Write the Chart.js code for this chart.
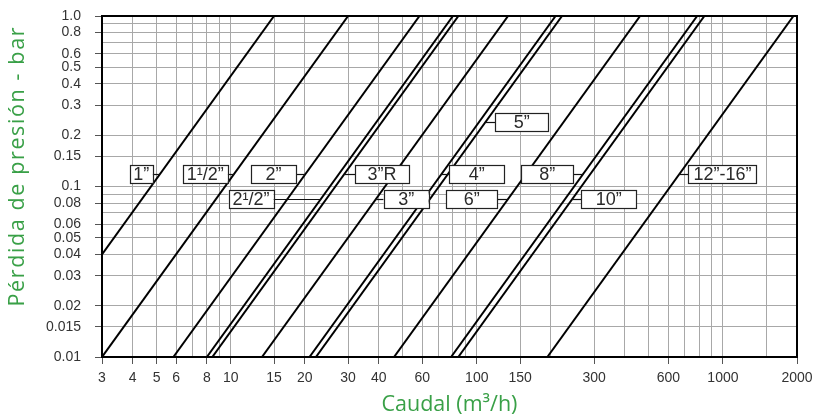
<!DOCTYPE html>
<html><head><meta charset="utf-8">
<script src="https://cdn.jsdelivr.net/npm/chart.js@4/dist/chart.umd.min.js"></script>
<style>html,body{margin:0;padding:0;background:#fff;}#wrap{width:813px;height:418px;}</style>
</head><body><div id="wrap"><canvas id="c" width="813" height="418"></canvas></div>
<script>
// ---- data ----
const sizes = ['1”', '1¹/2”', '2”', '2¹/2”', '3”R', '3”', '4”', '5”', '6”', '8”', '10”', '12”-16”'];
const flowStart = [3, 3.0, 5.85, 8.0, 8.42, 13.4, 20.9, 22.2, 46.1, 78.6, 84.1, 193.5];
const lossStart = [0.04, 0.01, 0.01, 0.01, 0.01, 0.01, 0.01, 0.01, 0.01, 0.01, 0.01, 0.01];
const flowEnd = [15, 30, 58.5, 80, 84.2, 134, 209, 222, 461, 786, 841, 1935];
const lossEnd = [1, 1, 1, 1, 1, 1, 1, 1, 1, 1, 1, 1];

const xGridValues = [3,4,5,6,7,8,9,10,15,20,30,40,50,60,70,80,90,100,150,200,300,400,500,600,700,800,900,1000,1500,2000];
const xTickValues = [3,4,5,6,8,10,15,20,30,40,60,100,150,300,600,1000,2000];
const xTickLabels = ['3','4','5','6','8','10','15','20','30','40','60','100','150','300','600','1000','2000'];
const yGridValues = [0.01,0.015,0.02,0.03,0.04,0.05,0.06,0.07,0.08,0.09,0.1,0.15,0.2,0.3,0.4,0.5,0.6,0.7,0.8,0.9,1.0];
const yTickValues = [0.01,0.015,0.02,0.03,0.04,0.05,0.06,0.08,0.1,0.15,0.2,0.3,0.4,0.5,0.6,0.8,1.0];
const yTickLabels = ['0.01','0.015','0.02','0.03','0.04','0.05','0.06','0.08','0.1','0.15','0.2','0.3','0.4','0.5','0.6','0.8','1.0'];

// ---- label layout ----
const labelLoss  = [0.1176,0.1176,0.1176,0.0847,0.1176,0.0847,0.1176,0.24,0.0847,0.1176,0.0847,0.1176];
const labelSide  = ['L','L','L','L','R','R','R','R','L','L','R','R'];
const labelGap   = [7,6,9,47,11,8,8,10,10.5,9.5,9.3,9.4];
const labelWidth = [23,45,45,45,54,45,55,53,51,52,55,68];

const GREEN = '#39a047';

function findLabel(vals, labs, v) {
  for (let i = 0; i < vals.length; i++) if (Math.abs(vals[i] - v) / vals[i] < 1e-6) return labs[i];
  return null;
}

const datasets = sizes.map((s, i) => ({
  label: s,
  data: [{x: flowStart[i], y: lossStart[i]}, {x: flowEnd[i], y: lossEnd[i]}],
  borderColor: '#000', borderWidth: 2, pointRadius: 0, fill: false, tension: 0
}));

const decor = {
  id: 'decor',
  afterDatasetsDraw(chart) {
    const ctx = chart.ctx, xs = chart.scales.x, ys = chart.scales.y, a = chart.chartArea;
    ctx.save();
    ctx.strokeStyle = '#000'; ctx.lineWidth = 2;
    ctx.beginPath();
    ctx.moveTo(a.left, a.top); ctx.lineTo(a.right, a.top); ctx.lineTo(a.right, a.bottom);
    ctx.stroke();
    ctx.font = '18px "Liberation Sans"';
    ctx.textAlign = 'center'; ctx.textBaseline = 'middle';
    sizes.forEach((s, i) => {
      const x0 = xs.getPixelForValue(flowStart[i]), y0 = ys.getPixelForValue(lossStart[i]);
      const x1 = xs.getPixelForValue(flowEnd[i]), y1 = ys.getPixelForValue(lossEnd[i]);
      const yl = Math.round(ys.getPixelForValue(labelLoss[i])) + 0.5;
      const lx = x0 + (x1 - x0) * (yl - y0) / (y1 - y0);
      let bl, br, cx;
      if (labelSide[i] === 'L') { br = lx - labelGap[i]; bl = br - labelWidth[i]; cx = br; }
      else { bl = lx + labelGap[i]; br = bl + labelWidth[i]; cx = bl; }
      ctx.strokeStyle = '#111'; ctx.lineWidth = 1.2;
      ctx.beginPath(); ctx.moveTo(lx, yl); ctx.lineTo(cx, yl); ctx.stroke();
      const top = yl - 9, h = 18;
      ctx.fillStyle = '#fff';
      ctx.fillRect(bl, top, br - bl, h);
      ctx.strokeStyle = '#222'; ctx.lineWidth = 1.2;
      ctx.strokeRect(Math.round(bl) + 0.5, top, Math.round(br - bl), h);
      ctx.fillStyle = '#2a2a2a';
      ctx.fillText(s, (bl + br) / 2, yl + 1);
    });
    ctx.restore();
  },
  afterDraw(chart) {
    const ctx = chart.ctx, a = chart.chartArea;
    ctx.save();
    ctx.fillStyle = GREEN;
    ctx.textAlign = 'center'; ctx.textBaseline = 'middle';
    ctx.font = '21.5px "Open Sans"';
    ctx.fillText('Caudal (m³/h)', (a.left + a.right) / 2, 405);
    const yt = 'Pérdida de presión - bar';
    ctx.font = '21.5px "Open Sans"';
    const w = ctx.measureText(yt).width;
    const sp = Math.max(0, (279 - w) / (yt.length - 1));
    ctx.letterSpacing = sp + 'px';
    ctx.translate(17.5, 167);
    ctx.rotate(-Math.PI / 2);
    ctx.fillText(yt, sp / 2, 0);
    ctx.restore();
  }
};

const tickFont = {family: '"Liberation Sans"', size: 14};

new Chart(document.getElementById('c'), {
  type: 'line',
  data: {datasets},
  plugins: [decor],
  options: {
    responsive: false, animation: false, devicePixelRatio: 1,
    layout: {padding: {top: 16, right: 16, left: 0, bottom: 0}},
    plugins: {legend: {display: false}, tooltip: {enabled: false}},
    scales: {
      x: {
        type: 'logarithmic', min: 3, max: 2000, position: 'bottom',
        afterBuildTicks: s => { s.ticks = xGridValues.map(v => ({value: v})); },
        afterFit: s => { s.height = 61; s.paddingLeft = 0; s.paddingRight = 0; },
        ticks: {autoSkip: false, maxRotation: 0, minRotation: 0, padding: 6, color: '#333', font: tickFont,
          callback: v => findLabel(xTickValues, xTickLabels, v) || ''},
        grid: {color: '#a8a8a8', lineWidth: 1, tickLength: 7,
          tickColor: c => (c.tick && findLabel(xTickValues, xTickLabels, c.tick.value)) ? '#555' : 'rgba(0,0,0,0)'},
        border: {color: '#000', width: 2}
      },
      y: {
        type: 'logarithmic', min: 0.01, max: 1.0, position: 'left',
        afterBuildTicks: s => { s.ticks = yGridValues.map(v => ({value: v})); },
        afterFit: s => { s.width = 102; s.paddingTop = 0; s.paddingBottom = 0; },
        ticks: {autoSkip: false, padding: 14, color: '#333', font: tickFont,
          callback: v => findLabel(yTickValues, yTickLabels, v) || ''},
        grid: {color: '#a8a8a8', lineWidth: 1, tickLength: 7,
          tickColor: c => (c.tick && findLabel(yTickValues, yTickLabels, c.tick.value)) ? '#555' : 'rgba(0,0,0,0)'},
        border: {color: '#000', width: 2}
      }
    }
  }
});
</script></body></html>
